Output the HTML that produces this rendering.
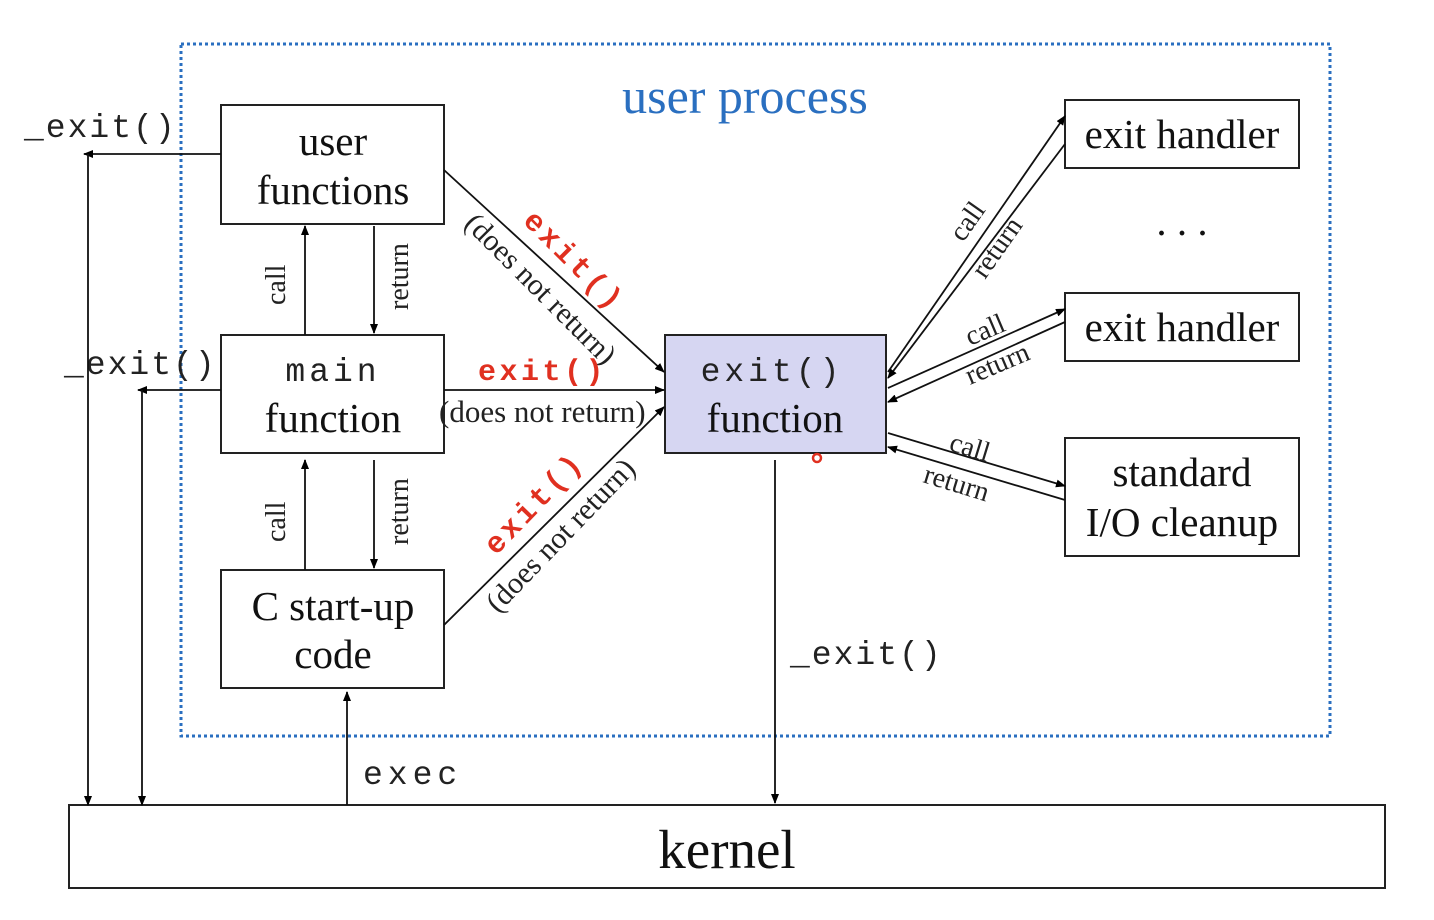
<!DOCTYPE html>
<html><head><meta charset="utf-8"><style>body{margin:0;background:#fff}svg{display:block}</style></head><body>
<svg width="1434" height="920" viewBox="0 0 1434 920" xmlns="http://www.w3.org/2000/svg" font-family="Liberation Serif, serif">
<defs><marker id="a" markerWidth="10" markerHeight="8" refX="9" refY="4" orient="auto" markerUnits="userSpaceOnUse"><path d="M0,0 L10,4 L0,8 z" fill="#000"/></marker></defs>
<rect x="181" y="44" width="1149" height="692" fill="none" stroke="#2a6fc0" stroke-width="3" stroke-dasharray="3,3"/>
<text x="745" y="113" font-size="50" fill="#2a6fc0" text-anchor="middle">user process</text>
<g fill="#fff" stroke="#222" stroke-width="2">
<rect x="221" y="105" width="223" height="119"/>
<rect x="221" y="335" width="223" height="118"/>
<rect x="221" y="570" width="223" height="118"/>
<rect x="665" y="335" width="221" height="118" fill="#d6d6f2"/>
<rect x="1065" y="100" width="234" height="68"/>
<rect x="1065" y="293" width="234" height="68"/>
<rect x="1065" y="438" width="234" height="118"/>
<rect x="69" y="805" width="1316" height="83"/>
</g>
<g font-size="41" text-anchor="middle" fill="#111">
<text x="333" y="155">user</text><text x="333" y="204">functions</text>
<text x="333" y="620">C start-up</text><text x="333" y="668">code</text>
<text x="775" y="432">function</text><text x="333" y="432">function</text>
<text x="1182" y="148">exit handler</text><text x="1182" y="341">exit handler</text>
<text x="1182" y="486">standard</text><text x="1182" y="536">I/O cleanup</text>
<text x="727" y="868" font-size="55">kernel</text>
<text x="1182" y="235">. . .</text>
</g>
<g font-family="Liberation Mono, monospace" font-size="33" fill="#222">
<text x="333" y="381" text-anchor="middle" letter-spacing="4">main</text>
<text x="772" y="381" text-anchor="middle" letter-spacing="4">exit()</text>
<text x="24" y="137" letter-spacing="2">_exit()</text>
<text x="64" y="374" letter-spacing="2">_exit()</text>
<text x="790" y="664" letter-spacing="2">_exit()</text>
<text x="363" y="784" letter-spacing="5">exec</text>
</g>
<g stroke="#111" stroke-width="1.8" fill="none" marker-end="url(#a)">
<line x1="221" y1="154" x2="84" y2="154"/><line x1="88" y1="154" x2="88" y2="805"/>
<line x1="221" y1="390" x2="138" y2="390"/><line x1="142" y1="390" x2="142" y2="805"/>
<line x1="347" y1="805" x2="347" y2="692"/>
<line x1="775" y1="460" x2="775" y2="803"/>
<line x1="305" y1="335" x2="305" y2="226"/><line x1="374" y1="226" x2="374" y2="333"/>
<line x1="305" y1="570" x2="305" y2="460"/><line x1="374" y1="460" x2="374" y2="568"/>
<line x1="444" y1="170" x2="664" y2="372"/><line x1="444" y1="390" x2="664" y2="390"/><line x1="444" y1="625" x2="664" y2="407"/>
<line x1="888" y1="372" x2="1065" y2="116"/><line x1="1065" y1="144" x2="888" y2="378"/>
<line x1="888" y1="388" x2="1065" y2="309"/><line x1="1065" y1="322" x2="888" y2="402"/>
<line x1="888" y1="433" x2="1065" y2="486"/><line x1="1065" y1="500" x2="888" y2="447"/>
</g>
<g font-size="28" fill="#222">
<text transform="translate(285,305) rotate(-90)">call</text>
<text transform="translate(408,310) rotate(-90)">return</text>
<text transform="translate(285,542) rotate(-90)">call</text>
<text transform="translate(408,545) rotate(-90)">return</text>
<text transform="translate(463,225) rotate(45)" font-size="30">(does not return)</text>
<text x="439" y="422" font-size="31">(does not return)</text>
<text transform="translate(498,614) rotate(-46)" font-size="30">(does not return)</text>
<text transform="translate(963,243) rotate(-55)">call</text>
<text transform="translate(985,280) rotate(-55)">return</text>
<text transform="translate(970,346) rotate(-23)">call</text>
<text transform="translate(970,385) rotate(-23)">return</text>
<text transform="translate(948,450) rotate(17)">call</text>
<text transform="translate(922,482) rotate(17)">return</text>
</g>
<g font-family="Liberation Mono, monospace" font-size="30" font-weight="bold" fill="#e03020" letter-spacing="3.5">
<text transform="translate(522,222) rotate(45)">exit()</text>
<text x="478" y="380">exit()</text>
<text transform="translate(496,556) rotate(-46)">exit()</text>
</g>
<circle cx="817" cy="458" r="4" fill="none" stroke="#e03020" stroke-width="2.5"/>
</svg>
</body></html>
